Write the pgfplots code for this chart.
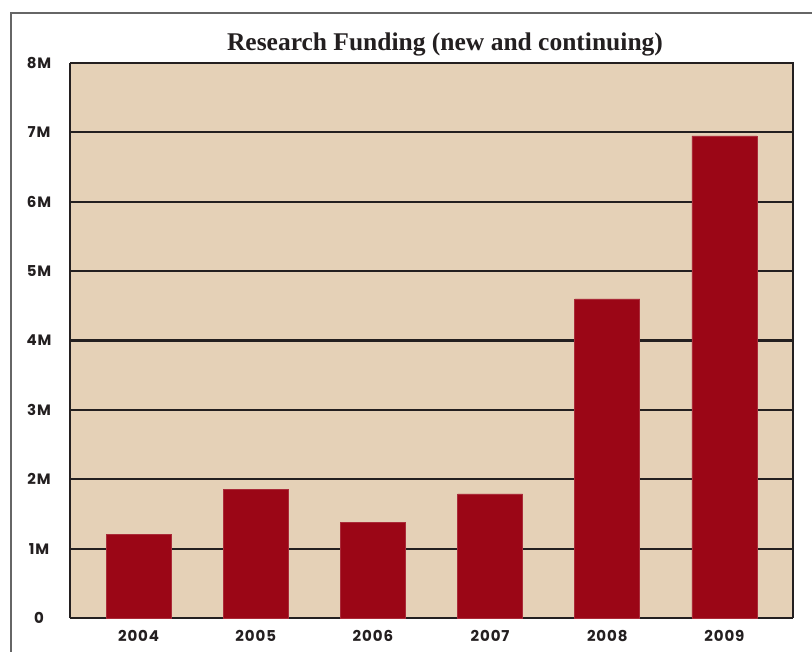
\documentclass[border=0pt]{standalone}
\usepackage{fontspec}
\setmainfont{Liberation Serif}
\newfontfamily\tickfont[LetterSpace=6]{Poppins}
\usepackage{pgfplots}
\pgfplotsset{compat=1.18}
\definecolor{bgtan}{HTML}{E5D1B7}
\definecolor{barred}{HTML}{9B0616}
\definecolor{axdark}{HTML}{231F20}
\begin{document}
\begin{tikzpicture}[x=1pt,y=1pt]
\draw[black!60, line width=1.2pt] (820pt,-13pt) -- (11pt,-13pt) -- (11pt,-660pt);
\node[font=\bfseries\fontsize{25.5}{29}\selectfont, text=axdark] at (445pt,-44pt) {Research Funding (new and continuing)};
\begin{axis}[
  at={(70pt,-618pt)}, anchor=south west,
  scale only axis, width=723pt, height=555pt,
  xmin=-0.585, xmax=5.585, ymin=0, ymax=8,
  axis background/.style={fill=bgtan},
  axis line style={axdark, line width=2.8pt},
  axis x line*=bottom, axis y line*=left,
  xtick=data, xticklabels={2004,2005,2006,2007,2008,2009},
  ytick={0,1,...,8}, yticklabels={0,1M,2M,3M,4M,5M,6M,7M,8M},
  major tick length=0pt,
  ymajorgrids, grid style={axdark, line width=2.2pt},
  yticklabel style={anchor=center, xshift=-31pt, font=\tickfont\bfseries\fontsize{15}{17}\selectfont, text=axdark},
  xticklabel style={anchor=center, yshift=-18pt, font=\tickfont\bfseries\fontsize{15}{17}\selectfont, text=axdark},
  ybar, bar width=65pt,
  clip=false,
]
\addplot[fill=barred, draw=barred!85!white, line width=0.6pt] coordinates {
 (0,1.21) (1,1.85) (2,1.38) (3,1.79) (4,4.60) (5,6.95)
};
\end{axis}
\draw[axdark, line width=2.8pt] (70pt,-63pt) -- (793pt,-63pt) -- (793pt,-618pt);
\pgfresetboundingbox
\path[use as bounding box] (0pt,0pt) rectangle (812pt,-652pt);
\end{tikzpicture}
\end{document}
